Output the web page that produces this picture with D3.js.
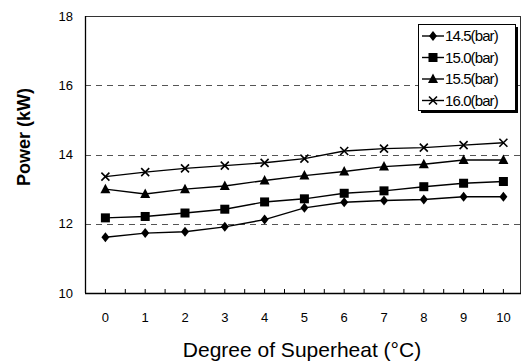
<!DOCTYPE html>
<html><head><meta charset="utf-8">
<script src="https://cdn.jsdelivr.net/npm/d3@7"></script>
<style>body{margin:0;background:#fff}svg{display:block}</style>
</head><body>
<svg id="c" width="522" height="361"></svg>
<script>
const categories = [0,1,2,3,4,5,6,7,8,9,10];
const seriesNames = ["14.5(bar)","15.0(bar)","15.5(bar)","16.0(bar)"];
const s145 = [11.61,11.73,11.77,11.91,12.12,12.46,12.62,12.67,12.70,12.78,12.78];
const s150 = [12.17,12.21,12.31,12.42,12.63,12.72,12.88,12.95,13.07,13.17,13.22];
const s155 = [13.00,12.86,13.00,13.09,13.25,13.39,13.51,13.65,13.72,13.84,13.84];
const s160 = [13.36,13.49,13.60,13.68,13.76,13.88,14.10,14.17,14.20,14.27,14.34];
const yTicks = [10,12,14,16,18];
const markers = ["diamond","square","triangle","cross"];
const seriesValues = [s145,s150,s155,s160];

const svg = d3.select("#c");
const L=85, R=521, T=16, B=293;
const x = d3.scaleLinear().domain([-0.5,10.5]).range([L+0.5, L+0.5+ (503-105)/10*11]);
const y = d3.scaleLinear().domain([10,18]).range([B,T]);
const font = "'Liberation Sans', Arial, sans-serif";

// gridlines
svg.append("g").selectAll("line").data([12,14,16]).join("line")
  .attr("x1",L).attr("x2",R).attr("y1",d=>Math.round(y(d))+0.5).attr("y2",d=>Math.round(y(d))+0.5)
  .attr("stroke","#555").attr("stroke-width",1).attr("stroke-dasharray","6,5");

// frame
svg.append("line").attr("x1",L).attr("x2",R).attr("y1",T+0.5).attr("y2",T+0.5).attr("stroke","#333");
svg.append("line").attr("x1",R-0.5).attr("x2",R-0.5).attr("y1",T).attr("y2",B).attr("stroke","#333");
svg.append("line").attr("x1",L+0.5).attr("x2",L+0.5).attr("y1",T).attr("y2",B).attr("stroke","#000").attr("stroke-width",1.3);
svg.append("line").attr("x1",L).attr("x2",R).attr("y1",B+0.5).attr("y2",B+0.5).attr("stroke","#000").attr("stroke-width",1.3);

// x ticks (inward, every half step)
const halfTicks = d3.range(0, 10.01, 0.5);
svg.append("g").selectAll("line").data(halfTicks).join("line")
  .attr("x1",d=>x(d)).attr("x2",d=>x(d)).attr("y1",B).attr("y2",B-4)
  .attr("stroke","#000").attr("stroke-width",1);

// y tick labels
svg.append("g").selectAll("text").data(yTicks).join("text")
  .attr("x",73).attr("y",d=>y(d)+4.5).attr("text-anchor","end")
  .attr("font-family",font).attr("font-size",13).text(d=>d);

// x tick labels
svg.append("g").selectAll("text").data(categories).join("text")
  .attr("x",d=>x(d)).attr("y",322).attr("text-anchor","middle")
  .attr("font-family",font).attr("font-size",13).text(d=>d);

// axis titles
svg.append("text").attr("x",302).attr("y",357).attr("text-anchor","middle")
  .attr("font-family",font).attr("font-size",21).text("Degree of Superheat (\u00B0C)");
svg.append("text").attr("transform","translate(30,137) rotate(-90)").attr("text-anchor","middle")
  .attr("font-family",font).attr("font-size",18).attr("font-weight","bold").text("Power (kW)");

function drawMarker(g, type, cx, cy){
  if(type==="diamond"){
    g.append("path").attr("d",`M${cx},${cy-5}L${cx+4},${cy}L${cx},${cy+5}L${cx-4},${cy}Z`).attr("fill","#000");
  } else if(type==="square"){
    g.append("rect").attr("x",cx-4.5).attr("y",cy-4.5).attr("width",9).attr("height",9).attr("fill","#000");
  } else if(type==="triangle"){
    g.append("path").attr("d",`M${cx},${cy-5.5}L${cx+5},${cy+4}L${cx-5},${cy+4}Z`).attr("fill","#000");
  } else {
    g.append("path").attr("d",`M${cx-4},${cy-4}L${cx+4},${cy+4}M${cx-4},${cy+4}L${cx+4},${cy-4}`)
      .attr("stroke","#000").attr("stroke-width",1.6).attr("fill","none");
  }
}

const line = d3.line().x((d,i)=>x(categories[i])).y(d=>y(d));
seriesValues.forEach((vals,k)=>{
  const g = svg.append("g");
  g.append("path").datum(vals).attr("d",line).attr("fill","none").attr("stroke","#000").attr("stroke-width",1.4);
  vals.forEach((v,i)=>drawMarker(g, markers[k], x(categories[i]), y(v)));
});

// legend
const lx=418, ly=24, lw=97, lh=86;
svg.append("rect").attr("x",lx+3).attr("y",ly+3).attr("width",lw).attr("height",lh).attr("fill","#000");
svg.append("rect").attr("x",lx+0.5).attr("y",ly+0.5).attr("width",lw).attr("height",lh).attr("fill","#fff").attr("stroke","#000");
seriesNames.forEach((n,k)=>{
  const yy = ly + 12 + k*21.5;
  const g = svg.append("g");
  g.append("line").attr("x1",lx+4).attr("x2",lx+26).attr("y1",yy).attr("y2",yy).attr("stroke","#000").attr("stroke-width",1.4);
  drawMarker(g, markers[k], lx+15, yy);
  g.append("text").attr("x",lx+27).attr("y",yy+5).attr("font-family",font).attr("font-size",15)
    .attr("letter-spacing","-0.9").text(n);
});
</script>
</body></html>
